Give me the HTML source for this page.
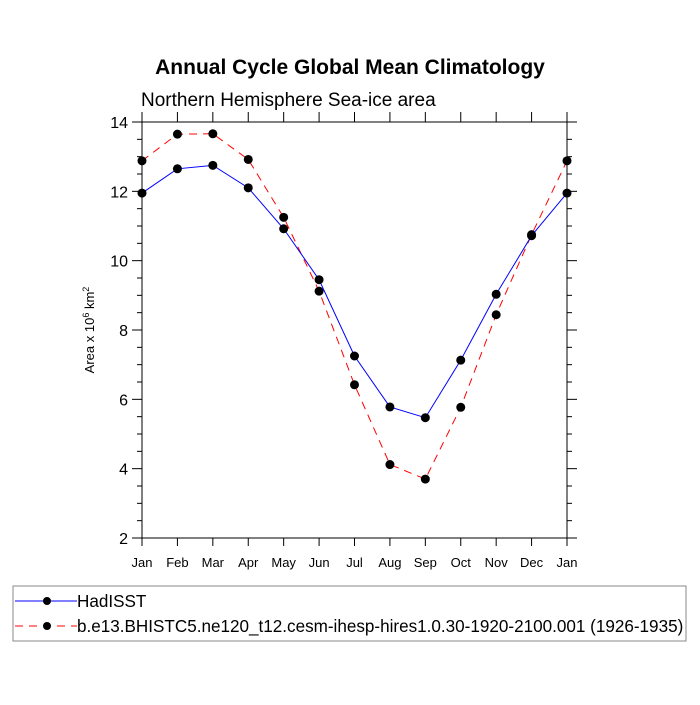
<!DOCTYPE html>
<html><head><meta charset="utf-8"><style>
body{margin:0;background:#fff;font-family:"Liberation Sans",sans-serif}
svg text{font-family:"Liberation Sans",sans-serif}
</style></head><body>
<svg id="chart" width="700" height="700" xmlns="http://www.w3.org/2000/svg">
<text x="350" y="74" text-anchor="middle" font-size="21" font-weight="bold">Annual Cycle Global Mean Climatology</text>
<text x="141" y="106" font-size="19">Northern Hemisphere Sea-ice area</text>
<text transform="translate(94,330) rotate(-90)" text-anchor="middle" font-size="13">Area x 10<tspan dy="-5" font-size="9">6</tspan><tspan dy="5"> km</tspan><tspan dy="-5" font-size="9">2</tspan></text>
<g id="axes"></g>
<g id="series"></g>
<rect x="13" y="586" width="673" height="55" fill="none" stroke="#888" stroke-width="1"/>
<g>
<line x1="15" y1="601" x2="77" y2="601" stroke="#00f" stroke-width="1"/>
<circle cx="47" cy="601" r="4" fill="#000"/>
<text x="77" y="607" font-size="17.1">HadISST</text>
</g>
<g>
<line x1="15" y1="626" x2="77" y2="626" stroke="#f00" stroke-width="1" stroke-dasharray="8,6"/>
<circle cx="47" cy="626" r="4" fill="#000"/>
<text x="77" y="632" font-size="17.1">b.e13.BHISTC5.ne120_t12.cesm-ihesp-hires1.0.30-1920-2100.001 (1926-1935)</text>
</g>
</svg>
<script>
const months=["Jan","Feb","Mar","Apr","May","Jun","Jul","Aug","Sep","Oct","Nov","Dec","Jan"];
const hadisst=[11.95,12.65,12.75,12.1,10.92,9.45,7.25,5.78,5.47,7.13,9.03,10.72,11.95];
const model=[12.88,13.65,13.66,12.92,11.25,9.12,6.42,4.12,3.7,5.77,8.44,10.75,12.88];
const yTicks=[2,4,6,8,10,12,14];
const NS="http://www.w3.org/2000/svg";
const L=142,R=567,T=122,B=538;
const x=i=>L+(R-L)*i/(months.length-1);
const y=v=>B-(B-T)*(v-2)/12;
function mk(tag,attrs,parent){const e=document.createElementNS(NS,tag);for(const k in attrs)e.setAttribute(k,attrs[k]);parent.appendChild(e);return e;}
const ax=document.getElementById('axes');
const frame=mk('rect',{x:L,y:T,width:R-L,height:B-T,fill:'none',stroke:'#000','stroke-width':1},ax);


for(let v=2;v<=14.001;v+=0.5){
 const major=Math.abs(v-Math.round(v/2)*2)<1e-6;
 const len=major?10:5;
 mk('line',{x1:L-len,y1:y(v),x2:L,y2:y(v),stroke:'#000'},ax);
 mk('line',{x1:R,y1:y(v),x2:R+len,y2:y(v),stroke:'#000'},ax);
}
yTicks.forEach(v=>{
 const t=mk('text',{x:L-14,y:y(v)+6,'text-anchor':'end','font-size':16},ax);
 t.textContent=v;
 
 
});
months.forEach((m,i)=>{
 mk('line',{x1:x(i),y1:T-10,x2:x(i),y2:T,stroke:'#000'},ax);
 mk('line',{x1:x(i),y1:B,x2:x(i),y2:B+8,stroke:'#000'},ax);
 const t=mk('text',{x:x(i),y:B+29,'text-anchor':'middle','font-size':13},ax);
 t.textContent=m;
 
 
});
const sg=document.getElementById('series');
function series(vals,color,dash,name){
 const g=mk('g',{},sg);
 
 
 const pts=vals.map((v,i)=>x(i)+','+y(v)).join(' ');
 const pl=mk('polyline',{points:pts,fill:'none',stroke:color,'stroke-width':1},g);
 if(dash)pl.setAttribute('stroke-dasharray',dash);
 vals.forEach((v,i)=>{
  const c=mk('circle',{cx:x(i),cy:y(v),r:4.5,fill:'#000'},g);
  
  
 });
}
series(model,'#f00','8,6','series-model');
series(hadisst,'#00f',null,'series-hadisst');
</script>
</body></html>
